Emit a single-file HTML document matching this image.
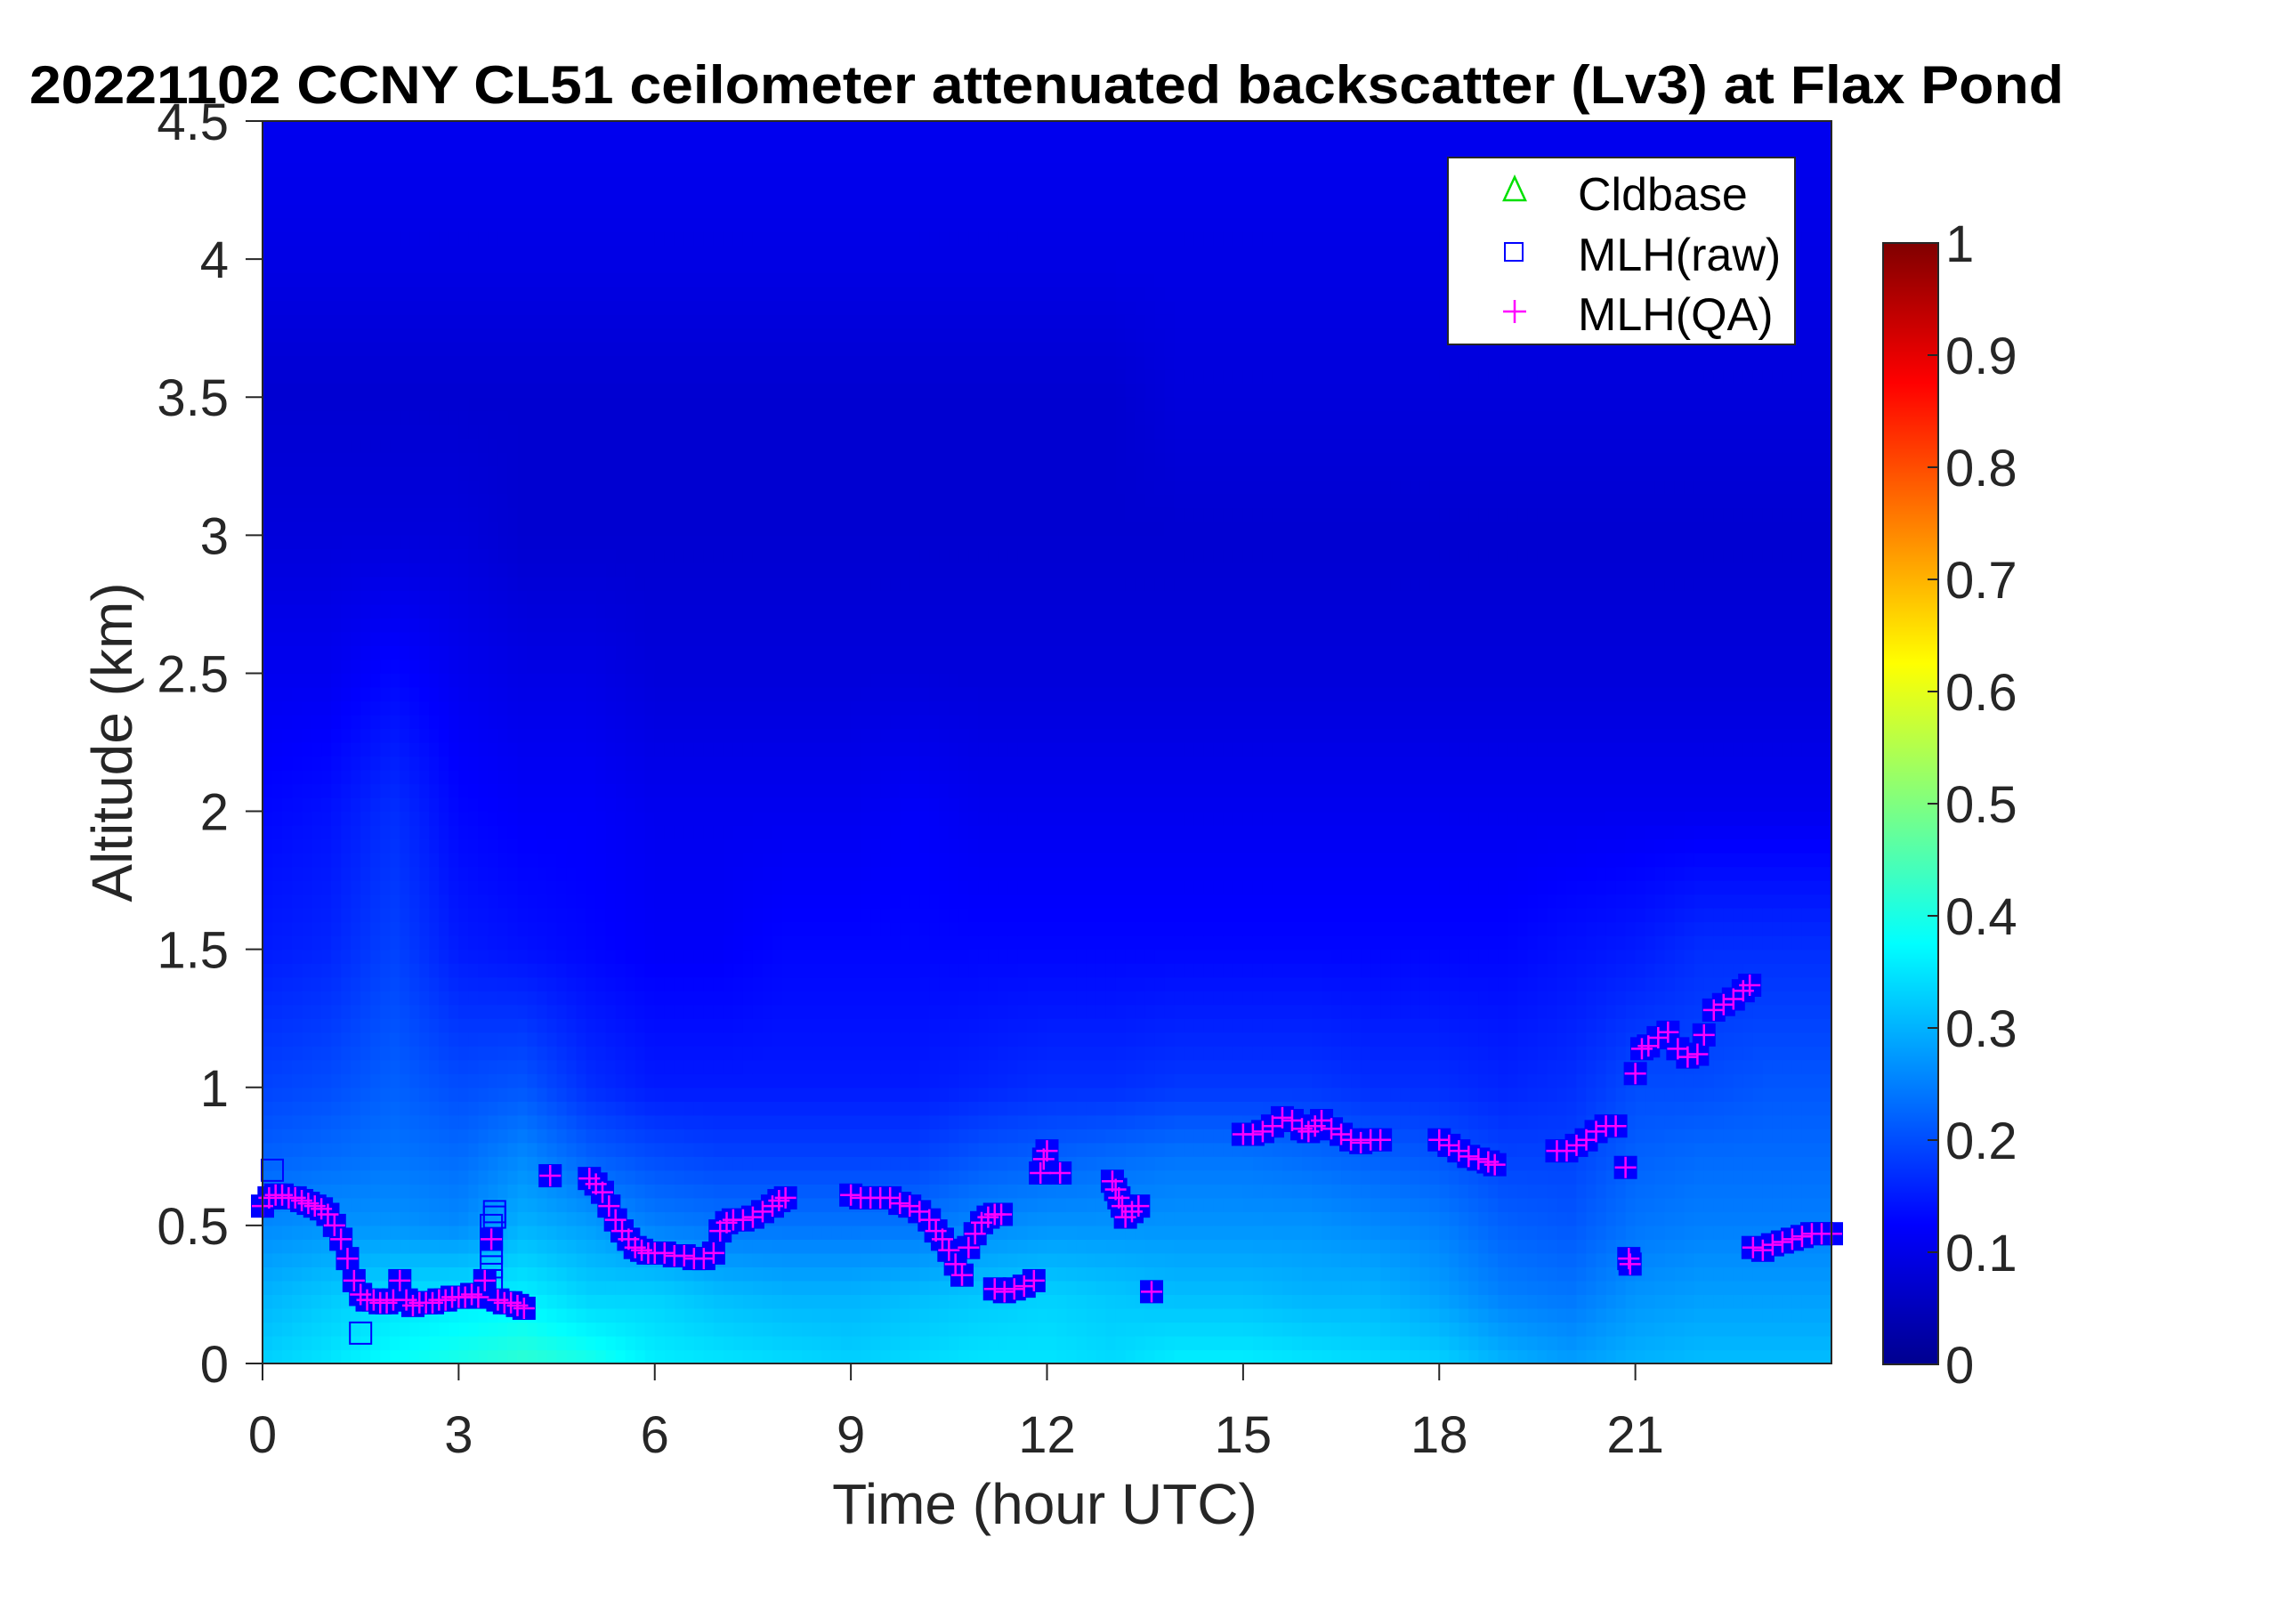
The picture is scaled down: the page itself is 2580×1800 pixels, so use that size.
<!DOCTYPE html>
<html><head><meta charset="utf-8"><style>
html,body{margin:0;padding:0;background:#fff;}
svg{display:block;font-family:"Liberation Sans",Arial,sans-serif;}
</style></head><body>
<svg id="chart" width="2580" height="1800" viewBox="0 0 2580 1800">
<text x="1176" y="116" text-anchor="middle" font-size="60" font-weight="bold" textLength="2286" lengthAdjust="spacingAndGlyphs">20221102 CCNY CL51 ceilometer attenuated backscatter (Lv3) at Flax Pond</text>
<g id="heat"></g>
<g id="marks"></g>
<rect x="295" y="136" width="1763" height="1396" fill="none" stroke="#262626" stroke-width="2"/>
<g id="axes"></g>
<text x="1174" y="1712" text-anchor="middle" font-size="64" fill="#262626">Time (hour UTC)</text>
<text transform="translate(148,834) rotate(-90)" text-anchor="middle" font-size="64" fill="#262626">Altitude (km)</text>
<g>
<rect x="1627" y="177" width="390" height="210" fill="#fff" stroke="#262626" stroke-width="2"/>
<polygon points="1702,199 1690,225 1714,225" fill="none" stroke="#00e000" stroke-width="2.5"/>
<text x="1773" y="236" font-size="52">Cldbase</text>
<rect x="1691" y="273" width="20" height="20" fill="none" stroke="#0000ff" stroke-width="2"/>
<text x="1773" y="304" font-size="52">MLH(raw)</text>
<path d="M1689,350 h26 M1702,337 v26" stroke="#ff00ff" stroke-width="2.5"/>
<text x="1773" y="371" font-size="52">MLH(QA)</text>
</g>
<defs><linearGradient id="jet" x1="0" y1="1" x2="0" y2="0">
<stop offset="0" stop-color="#00008f"/><stop offset="0.125" stop-color="#0000ff"/><stop offset="0.375" stop-color="#00ffff"/><stop offset="0.625" stop-color="#ffff00"/><stop offset="0.875" stop-color="#ff0000"/><stop offset="1" stop-color="#800000"/>
</linearGradient></defs>
<rect x="2116" y="273" width="62" height="1260" fill="url(#jet)" stroke="#262626" stroke-width="2"/>
<g id="cbticks"></g>
</svg>
<script>
// ---- data ----
var heatTimes = [0,1,2,3,4,5,6,7,8,9,10,11,12,13,14,15,16,17,18,19,20,21,22,23,24];
var heatAlts = [0,0.25,0.5,0.75,1.0,1.5,2.0,2.5,3.0,3.5,4.0,4.5];
var heatVals = [
[0.33,0.35,0.38,0.40,0.42,0.40,0.36,0.35,0.34,0.33,0.34,0.35,0.35,0.34,0.36,0.36,0.35,0.34,0.33,0.30,0.28,0.30,0.31,0.31,0.31],
[0.30,0.32,0.34,0.35,0.36,0.33,0.33,0.31,0.30,0.30,0.31,0.32,0.33,0.32,0.31,0.31,0.30,0.30,0.28,0.25,0.24,0.27,0.28,0.28,0.28],
[0.26,0.27,0.27,0.26,0.30,0.28,0.25,0.24,0.24,0.24,0.24,0.26,0.27,0.27,0.27,0.27,0.27,0.26,0.25,0.22,0.21,0.24,0.25,0.25,0.25],
[0.22,0.23,0.24,0.23,0.26,0.22,0.20,0.19,0.19,0.19,0.19,0.21,0.22,0.23,0.24,0.24,0.23,0.22,0.21,0.19,0.19,0.22,0.23,0.23,0.23],
[0.19,0.20,0.22,0.20,0.21,0.17,0.15,0.15,0.15,0.15,0.15,0.16,0.17,0.17,0.18,0.18,0.18,0.17,0.17,0.16,0.17,0.20,0.20,0.21,0.21],
[0.15,0.16,0.19,0.15,0.14,0.13,0.12,0.12,0.13,0.13,0.13,0.13,0.13,0.13,0.13,0.13,0.13,0.13,0.13,0.13,0.14,0.15,0.17,0.17,0.17],
[0.13,0.14,0.17,0.13,0.12,0.12,0.11,0.11,0.11,0.11,0.12,0.11,0.11,0.11,0.11,0.11,0.11,0.11,0.11,0.11,0.11,0.11,0.11,0.11,0.11],
[0.11,0.11,0.13,0.11,0.10,0.10,0.09,0.09,0.09,0.09,0.09,0.09,0.09,0.09,0.09,0.09,0.09,0.09,0.09,0.09,0.09,0.09,0.09,0.09,0.09],
[0.09,0.09,0.09,0.09,0.08,0.08,0.08,0.08,0.08,0.08,0.08,0.08,0.08,0.08,0.08,0.08,0.08,0.08,0.08,0.08,0.08,0.08,0.08,0.08,0.08],
[0.08,0.08,0.08,0.08,0.08,0.08,0.08,0.08,0.08,0.08,0.08,0.08,0.08,0.08,0.09,0.09,0.09,0.09,0.09,0.09,0.09,0.09,0.09,0.09,0.09],
[0.10,0.10,0.10,0.10,0.10,0.10,0.10,0.10,0.10,0.10,0.10,0.10,0.10,0.10,0.10,0.10,0.10,0.10,0.10,0.10,0.10,0.10,0.10,0.10,0.10],
[0.11,0.11,0.11,0.11,0.11,0.11,0.11,0.11,0.11,0.11,0.11,0.11,0.11,0.11,0.11,0.11,0.11,0.11,0.11,0.11,0.11,0.11,0.11,0.11,0.11]
];
var qaTimes = [0,0.1,0.2,0.3,0.4,0.5,0.6,0.7,0.8,0.9,1.0,1.1,1.2,1.3,1.4,1.5,1.6,1.7,1.8,1.9,2.0,2.1,2.2,2.3,2.4,2.5,2.6,2.7,2.8,2.9,3.0,3.1,3.2,3.3,3.4,3.5,3.6,3.7,3.8,3.9,4.0,4.4,
5.0,5.1,5.2,5.3,5.4,5.5,5.6,5.7,5.8,5.9,6.0,6.15,6.3,6.45,6.6,6.75,6.9,7.0,7.1,7.2,7.35,7.5,7.65,7.8,7.9,8.0,
9.0,9.15,9.3,9.45,9.6,9.75,9.9,10.05,10.2,10.3,10.4,10.5,10.6,10.7,10.8,10.9,11.0,11.1,11.2,11.3,
11.2,11.35,11.5,11.65,11.8,11.9,11.95,12.0,12.2,
13.0,13.05,13.1,13.15,13.2,13.3,13.4,13.6,
15.0,15.15,15.3,15.45,15.6,15.75,15.9,16.0,16.1,16.2,16.35,16.5,16.65,16.8,16.95,17.1,
18.0,18.15,18.3,18.45,18.6,18.75,18.85,
19.8,19.95,20.1,20.25,20.4,20.55,20.7,20.85,20.9,20.92,21.0,21.1,21.2,21.35,21.5,21.65,21.8,21.95,22.05,22.2,22.35,22.5,22.65,22.75,
22.8,22.95,23.1,23.25,23.4,23.55,23.7,23.85,24.0];
var qaHeights = [0.57,0.60,0.61,0.61,0.60,0.60,0.59,0.58,0.57,0.56,0.54,0.50,0.45,0.38,0.30,0.25,0.23,0.23,0.22,0.22,0.23,0.30,0.23,0.21,0.22,0.22,0.22,0.23,0.23,0.24,0.24,0.24,0.25,0.24,0.30,0.45,0.23,0.22,0.22,0.21,0.20,0.68,
0.67,0.65,0.62,0.57,0.52,0.48,0.45,0.42,0.41,0.40,0.40,0.40,0.39,0.39,0.38,0.38,0.40,0.48,0.51,0.52,0.52,0.53,0.55,0.57,0.59,0.60,
0.61,0.60,0.60,0.60,0.60,0.58,0.57,0.55,0.52,0.48,0.45,0.41,0.36,0.32,0.42,0.47,0.51,0.53,0.54,0.54,
0.27,0.26,0.27,0.28,0.30,0.69,0.74,0.77,0.69,
0.66,0.63,0.60,0.57,0.53,0.55,0.57,0.26,
0.83,0.83,0.84,0.86,0.89,0.88,0.85,0.84,0.86,0.88,0.85,0.83,0.81,0.80,0.81,0.81,
0.81,0.79,0.77,0.75,0.74,0.73,0.72,
0.77,0.77,0.79,0.81,0.84,0.86,0.86,0.71,0.38,0.36,1.05,1.14,1.15,1.18,1.20,1.14,1.11,1.12,1.19,1.28,1.30,1.32,1.35,1.37,
0.42,0.41,0.43,0.44,0.45,0.46,0.47,0.47,0.47];
var rawTimes = [0.15,1.5,3.5,3.5,3.5,3.5,3.5,3.55,3.55];
var rawHeights = [0.70,0.11,0.30,0.35,0.40,0.45,0.50,0.53,0.55];
var xTickVals = [0,3,6,9,12,15,18,21];
var yTickVals = [0,0.5,1,1.5,2,2.5,3,3.5,4,4.5];
var yTickLabels = ["0","0.5","1","1.5","2","2.5","3","3.5","4","4.5"];
var cbTickVals = [0,0.1,0.2,0.3,0.4,0.5,0.6,0.7,0.8,0.9,1];
var cbTickLabels = ["0","0.1","0.2","0.3","0.4","0.5","0.6","0.7","0.8","0.9","1"];

// ---- scales ----
var X0=295,X1=2058,Y0=1532,Y1=136, XMAX=24, YMAX=4.5;
function sx(t){return X0+(X1-X0)*t/XMAX;}
function sy(h){return Y0-(Y0-Y1)*h/YMAX;}
function cy(v){return 1533-1260*v;}
var NS="http://www.w3.org/2000/svg";
function mk(tag,attrs,parent){var e=document.createElementNS(NS,tag);for(var k in attrs)e.setAttribute(k,attrs[k]);parent.appendChild(e);return e;}
function jet(v){v=Math.max(0,Math.min(1,v));
 function c(x){return Math.max(0,Math.min(1,x));}
 var r=c(Math.min(4*v-1.5,-4*v+4.5)),g=c(Math.min(4*v-0.5,-4*v+3.5)),b=c(Math.min(4*v+0.5,-4*v+2.5));
 return "rgb("+Math.round(r*255)+","+Math.round(g*255)+","+Math.round(b*255)+")";}
function lerpIdx(arr,v){for(var i=0;i<arr.length-1;i++){if(v<=arr[i+1])return [i,(v-arr[i])/(arr[i+1]-arr[i])];}return [arr.length-2,1];}
function sample(t,h){var a=lerpIdx(heatTimes,t),b=lerpIdx(heatAlts,h);
 var i=a[0],fi=a[1],j=b[0],fj=b[1];
 var v00=heatVals[j][i],v01=heatVals[j][i+1],v10=heatVals[j+1][i],v11=heatVals[j+1][i+1];
 return (v00*(1-fi)+v01*fi)*(1-fj)+(v10*(1-fi)+v11*fi)*fj;}

// heatmap
var heat=document.getElementById('heat');
var DT=0.15, DH=0.05;
for(var t=0;t<XMAX-1e-9;t+=DT){
 for(var h=0;h<YMAX-1e-9;h+=DH){
  var v=sample(t+DT/2,h+DH/2);
  var x=sx(t),y=sy(h+DH),w=sx(t+DT)-x+0.6,hh=sy(h)-y+0.6;
  var r=mk('rect',{x:x.toFixed(1),y:y.toFixed(1),width:w.toFixed(1),height:hh.toFixed(1),fill:jet(v)},heat);
  
  
 }
}
// markers
var marks=document.getElementById('marks');
var S=12;
for(var i=0;i<qaTimes.length;i++){
 var x=sx(qaTimes[i]),y=sy(qaHeights[i]);
 var q=mk('rect',{x:x-S,y:y-S,width:2*S,height:2*S,fill:'#0000ff',stroke:'#0000ff','stroke-width':2},marks);
 
 
}
for(var i=0;i<rawTimes.length;i++){
 var x=sx(rawTimes[i]),y=sy(rawHeights[i]);
 var q=mk('rect',{x:x-S,y:y-S,width:2*S,height:2*S,fill:'none',stroke:'#0000ff','stroke-width':2},marks);
 
 
}
for(var i=0;i<qaTimes.length;i++){
 var x=sx(qaTimes[i]),y=sy(qaHeights[i]);
 var p=mk('path',{d:'M'+(x-12)+','+y+'h24M'+x+','+(y-12)+'v24',stroke:'#ff00ff','stroke-width':2.5,fill:'none'},marks);
 
 
}
// axes
var axes=document.getElementById('axes');
for(var i=0;i<xTickVals.length;i++){
 var x=sx(xTickVals[i]);
 var l=mk('line',{x1:x,y1:Y0,x2:x,y2:Y0+19,stroke:'#262626','stroke-width':2},axes);
 
 
 var tx=mk('text',{x:x,y:Y0+100,'text-anchor':'middle','font-size':58,fill:'#262626'},axes);
 tx.textContent=String(xTickVals[i]);
 
 
}
for(var i=0;i<yTickVals.length;i++){
 var y=sy(yTickVals[i]);
 var l=mk('line',{x1:X0-19,y1:y,x2:X0,y2:y,stroke:'#262626','stroke-width':2},axes);
 
 
 var tx=mk('text',{x:X0-38,y:y+21,'text-anchor':'end','font-size':58,fill:'#262626'},axes);
 tx.textContent=yTickLabels[i];
 
 
}
var cbt=document.getElementById('cbticks');
for(var i=0;i<cbTickVals.length;i++){
 var y=cy(cbTickVals[i]);
 var l=mk('line',{x1:2166,y1:y,x2:2178,y2:y,stroke:'#262626','stroke-width':2},cbt);
 
 
 var tx=mk('text',{x:2186,y:y+21,'font-size':58,fill:'#262626'},cbt);
 tx.textContent=cbTickLabels[i];
 
 
}
</script>
</body></html>
